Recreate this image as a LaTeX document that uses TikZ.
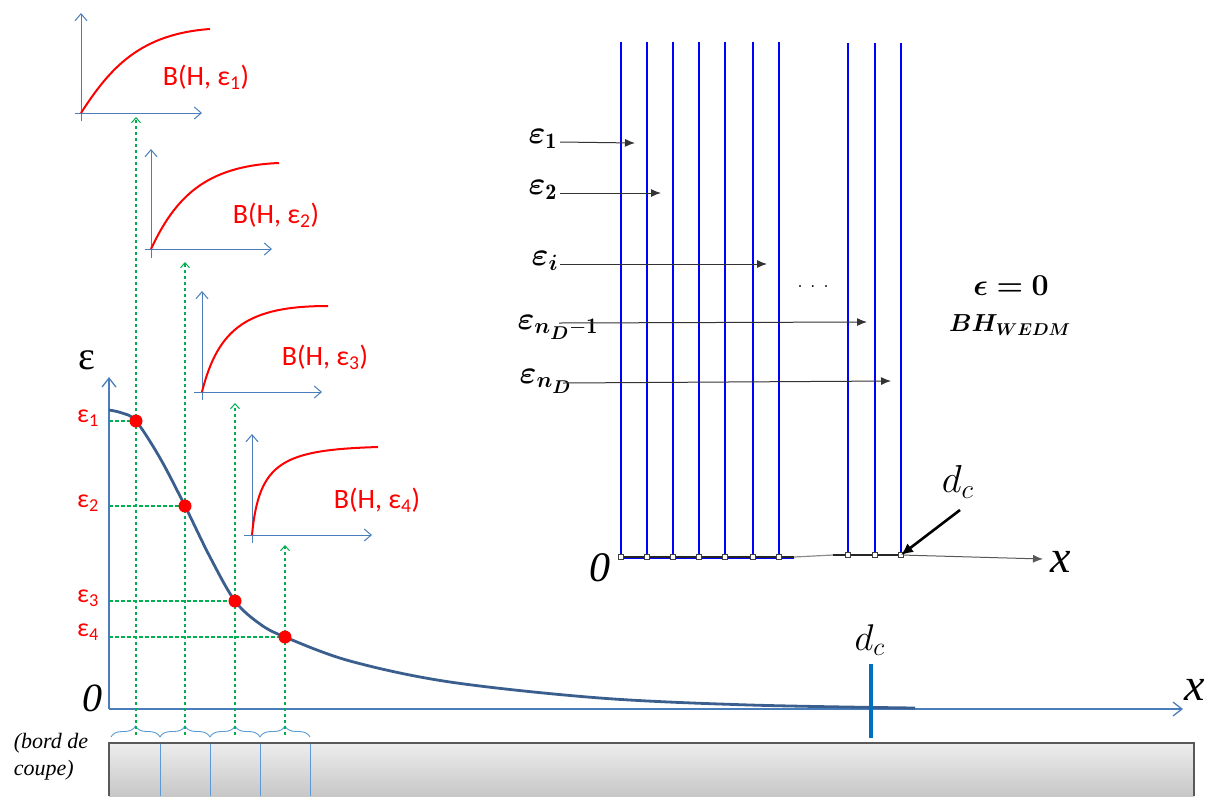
\documentclass[tikz,border=0pt]{standalone}
\usepackage{fontspec}
\usepackage{amsmath,bm}
\usetikzlibrary{arrows.meta,decorations.pathreplacing}
\newfontfamily\calibri{Carlito}
\newfontfamily\timesf{Liberation Serif}
\definecolor{axblue}{HTML}{4A7EBB}
\definecolor{curveblue}{HTML}{3A5F8E}
\definecolor{gdash}{HTML}{00B050}
\definecolor{brblue}{HTML}{5B9BD5}
\definecolor{tickblue}{HTML}{0070C0}
\definecolor{pureblue}{HTML}{0000FF}
\tikzset{
  axisline/.style={draw=axblue, line width=1.3pt, -{Straight Barb[length=9pt,width=14pt,line width=1.3pt]}},
  smallaxis/.style={draw=axblue, line width=1pt, -{Straight Barb[length=7pt,width=12pt,line width=1pt]}},
  bhcurve/.style={draw=red, line width=2pt},
  gline/.style={draw=gdash, line width=1.2pt, dash pattern=on 3.5pt off 2.5pt},
  garrow/.style={gline, -{Straight Barb[length=5pt,width=9pt,line width=1pt]}},
  reddot/.style={circle, fill=red, minimum size=13pt, inner sep=0pt},
  redlab/.style={text=red, font=\calibri\fontsize{28}{30}\selectfont, inner sep=0pt},
  axlab/.style={text=red, font=\calibri\fontsize{26}{28}\selectfont, inner sep=0pt},
  vline/.style={draw=pureblue, line width=1.1pt},
  blkarrow/.style={draw=black!80, line width=1pt, -{Latex[length=10pt,width=8pt]}},
  sq/.style={draw=black!75, line width=0.7pt, minimum size=5.5pt, inner sep=0pt, fill=white},
  rlab/.style={inner sep=0pt, font=\LARGE, scale=1.85},
  dclabel/.style={inner sep=0pt, font=\LARGE, scale=2.15},
  brace/.style={draw=brblue, line width=0.9pt, decorate, decoration={brace, amplitude=11pt}},
}
\begin{document}
\begin{tikzpicture}[x=1pt,y=-1pt]
\useasboundingbox (0,0) rectangle (1214,796);

% ---------- bar (bord de coupe) ----------
\shade[top color=black!7, bottom color=black!22] (109,743) rectangle (1194,796);
\draw[black!65, line width=1.2pt] (109,796) -- (109,743) -- (1194,743) -- (1194,796);
\foreach \x in {160,210,260,310} \draw[brblue, line width=0.8pt] (\x,744) -- (\x,796);
\node[font=\timesf\itshape\fontsize{22}{27}\selectfont, align=left, inner sep=0pt] (bord) at (51,757) {(bord de\\coupe)};

% braces
\coordinate (b0) at (111,737); \coordinate (b1) at (160,737); \coordinate (b2) at (210,737);
\coordinate (b3) at (260,737); \coordinate (b4) at (310,737);
\draw[brace] (b0) -- (b1);
\draw[brace] (b1) -- (b2);
\draw[brace] (b2) -- (b3);
\draw[brace] (b3) -- (b4);

% ---------- main axes ----------
\coordinate (O) at (109,709);
\coordinate (Ytop) at (109,377);
\coordinate (Xend) at (1183,709);
\draw[axisline] (O) -- (Ytop);
\draw[axisline] (O) -- (Xend);
\node[font=\timesf\fontsize{40}{40}\selectfont, inner sep=0pt] (eps) at (87,360) {ε};
\node[font=\timesf\itshape\fontsize{40}{40}\selectfont, inner sep=0pt] (zero) at (92,698) {0};
\node[font=\timesf\itshape\fontsize{46}{46}\selectfont, inner sep=0pt] (xlab) at (1195,690) {x};

% main curve
\draw[curveblue, line width=2.8pt] plot[smooth, tension=0.55] coordinates
  {(109,410) (122,413) (136,421) (160,458) (185,506) (210,557) (235,601) (260,624) (285,637)
   (350,661) (450,682) (600,698) (750,705) (915,708)};

% d_c tick
\coordinate (dct) at (871,664); \coordinate (dcb) at (871,738);
\draw[tickblue, line width=4pt] (dct) -- (dcb);
\node[dclabel] (dclab) at (870,640) {$d_c$};

% ---------- dots, dashed guides ----------
\coordinate (c1) at (136,421); \coordinate (c2) at (185,506);
\coordinate (c3) at (235,601); \coordinate (c4) at (285,637);
\coordinate (a1) at (109,421); \coordinate (a2) at (109,506);
\coordinate (a3) at (109,601); \coordinate (a4) at (109,637);
\draw[gline] (a1) -- (c1);
\draw[gline] (a2) -- (c2);
\draw[gline] (a3) -- (c3);
\draw[gline] (a4) -- (c4);
\coordinate (g1b) at (136,735); \coordinate (g1t) at (136,117);
\coordinate (g2b) at (185,735); \coordinate (g2t) at (185,262);
\coordinate (g3b) at (235,735); \coordinate (g3t) at (235,403);
\coordinate (g4b) at (285,735); \coordinate (g4t) at (285,545);
\draw[garrow] (g1b) -- (g1t);
\draw[garrow] (g2b) -- (g2t);
\draw[garrow] (g3b) -- (g3t);
\draw[garrow] (g4b) -- (g4t);
\node[reddot] (d1) at (c1) {};
\node[reddot] (d2) at (c2) {};
\node[reddot] (d3) at (c3) {};
\node[reddot] (d4) at (c4) {};

\node[axlab, anchor=east] (e1) at (99,418) {ε\textsubscript{1}};
\node[axlab, anchor=east] (e2) at (99,503) {ε\textsubscript{2}};
\node[axlab, anchor=east] (e3) at (99,598) {ε\textsubscript{3}};
\node[axlab, anchor=east] (e4) at (99,632) {ε\textsubscript{4}};

% ---------- small B(H) graphs ----------
% graph 1
\coordinate (o1) at (81,113);
\draw[smallaxis] (81,121) -- (81,13);
\draw[smallaxis] (75,113) -- (202,113);
\draw[bhcurve] (o1) .. controls (110,68) and (140,34) .. (210,29);
\node[redlab] (bh1) at (206,77) {B(H, ε\textsubscript{1})};
% graph 2
\coordinate (o2) at (151,249);
\draw[smallaxis] (151,258) -- (151,149);
\draw[smallaxis] (145,249) -- (272,249);
\draw[bhcurve] (o2) .. controls (175,198) and (205,166) .. (279,163);
\node[redlab] (bh2) at (276,215) {B(H, ε\textsubscript{2})};
% graph 3
\coordinate (o3) at (202,392);
\draw[smallaxis] (202,400) -- (202,291);
\draw[smallaxis] (194,392) -- (322,392);
\draw[bhcurve] (o3) .. controls (218,328) and (248,306) .. (328,306);
\node[redlab] (bh3) at (325,357) {B(H, ε\textsubscript{3})};
% graph 4
\coordinate (o4) at (252,535);
\draw[smallaxis] (252,543) -- (252,434);
\draw[smallaxis] (244,535) -- (372,535);
\draw[bhcurve] (o4) .. controls (259,462) and (282,450) .. (378,447);
\node[redlab] (bh4) at (377,500) {B(H, ε\textsubscript{4})};

% ---------- right panel ----------
\foreach \x [count=\i] in {621,647,673,699,725,753,779} {
  \coordinate (vt\i) at (\x,42); \coordinate (vb\i) at (\x,557);
  \draw[vline] (vt\i) -- (vb\i);
}
\foreach \x [count=\i] in {848,875,901} {
  \coordinate (wt\i) at (\x,43); \coordinate (wb\i) at (\x,555);
  \draw[vline] (wt\i) -- (wb\i);
}
\coordinate (h1) at (621,557); \coordinate (h2) at (794,557);
\coordinate (h3) at (833,555); \coordinate (xend) at (1043,559);
\draw[pureblue, line width=1.2pt] (621,558.5) -- (794,558.5);
\draw[black!85, line width=1.2pt] (h1) -- (h2);
\draw[black!45, line width=1.2pt] (h2) -- (h3);
\draw[black!85, line width=1.2pt] (h3) -- (wb3);
\draw[blkarrow, draw=black!65] (wb3) -- (xend);
\foreach \i in {1,...,7} \node[sq] at (vb\i) {};
\foreach \i in {1,2,3} \node[sq] at (wb\i) {};
\node[font=\timesf\itshape\fontsize{42}{42}\selectfont, inner sep=0pt] (zr) at (600,568) {0};
\node[font=\timesf\itshape\fontsize{46}{46}\selectfont, inner sep=0pt] (xr) at (1061,562) {x};
\node[dclabel, scale=1.05] (dctop) at (958,482) {$d_c$};
\coordinate (dcs) at (960,510);
\draw[black, line width=2.6pt, -{Latex[length=12pt,width=11pt]}] (dcs) -- (wb3);

% epsilon arrows
\node[rlab] (r1) at (543,139) {$\boldsymbol{\varepsilon}_{\mathbf{1}}$};
\node[rlab] (r2) at (543,190) {$\boldsymbol{\varepsilon}_{\mathbf{2}}$};
\node[rlab] (ri) at (545,261) {$\boldsymbol{\varepsilon}_{\boldsymbol{i}}$};
\node[rlab] (rn1) at (558,327) {$\boldsymbol{\varepsilon}_{\boldsymbol{n_D}\mathbf{-1}}$};
\node[rlab] (rn) at (546,381) {$\boldsymbol{\varepsilon}_{\boldsymbol{n_D}}$};
\coordinate (s1) at (560,142); \coordinate (t1) at (635,143);
\coordinate (s2) at (560,193); \coordinate (t2) at (661,193);
\coordinate (si) at (560,264); \coordinate (ti) at (767,264);
\coordinate (sn1) at (559,323); \coordinate (tn1) at (867,322);
\coordinate (sn) at (563,383); \coordinate (tn) at (891,381);
\draw[blkarrow] (s1) -- (t1);
\draw[blkarrow] (s2) -- (t2);
\draw[blkarrow] (si) -- (ti);
\draw[blkarrow] (sn1) -- (tn1);
\draw[blkarrow] (sn) -- (tn);
\node[font=\fontsize{24}{24}\selectfont, inner sep=0pt] (dots) at (813,287) {.\hspace{7pt}.\hspace{7pt}.};

\node[rlab, scale=0.95] (epz) at (1011,286) {$\boldsymbol{\epsilon=0}$};
\node[rlab, scale=0.77] (bhw) at (1010,325) {$\boldsymbol{BH_{WEDM}}$};
\end{tikzpicture}
\end{document}
